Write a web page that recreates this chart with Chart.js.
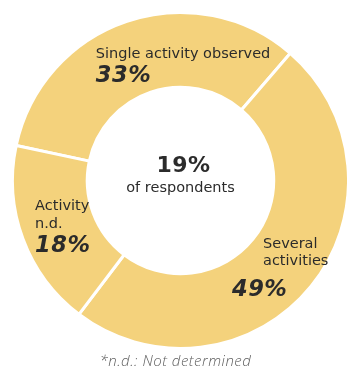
<!DOCTYPE html>
<html>
<head>
<meta charset="utf-8">
<script src="https://cdn.jsdelivr.net/npm/chart.js@4"></script>
<style>
  body { margin: 0; background: #ffffff; }
</style>
</head>
<body>
<canvas id="myChart" width="347" height="372"></canvas>
<script>
var categories = ["Single activity observed", "Several activities", "Activity n.d."];
var labelLines = [["Single activity observed"], ["Several", "activities"], ["Activity", "n.d."]];
var shares = [33, 49, 18];
var centerValue = "19%";
var centerText = "of respondents";
var footnote = "*n.d.: Not determined";

// where each label block sits, relative to the middle of its slice
// [text dx, text dy of first line, line step, percent dx, percent dy]
var labelOffsets = [
    [-43, 1, 18, -43, 25],
    [-19, -15, 17, -50, 33],
    [-23, -16, 18, -23, 26]
];

var textColor = '#2b2b2b';
var family = '"DejaVu Sans", Verdana, sans-serif';

var ringLabels = {
    id: 'ringLabels',
    afterDraw: function(chart) {
        var ctx = chart.ctx;
        var meta = chart.getDatasetMeta(0);
        ctx.save();
        ctx.fillStyle = textColor;
        ctx.textBaseline = 'alphabetic';

        for (var i = 0; i < meta.data.length; i++) {
            var p = meta.data[i].tooltipPosition();
            var o = labelOffsets[i];
            ctx.textAlign = 'left';
            ctx.letterSpacing = '0px';
            ctx.font = '14.5px ' + family;
            for (var j = 0; j < labelLines[i].length; j++) {
                ctx.fillText(labelLines[i][j], p.x + o[0], p.y + o[1] + j * o[2]);
            }
            ctx.letterSpacing = '0.5px';
            ctx.font = 'italic bold 22.5px ' + family;
            ctx.fillText(shares[i] + '%', p.x + o[3], p.y + o[4]);
        }

        // middle of the ring
        var cx = meta.data[0].x;
        var cy = meta.data[0].y;
        ctx.textAlign = 'center';
        ctx.letterSpacing = '0.5px';
        ctx.font = 'bold 22px ' + family;
        ctx.fillText(centerValue, cx + 3, cy - 9);
        ctx.letterSpacing = '0px';
        ctx.font = '14.5px ' + family;
        ctx.fillText(centerText, cx, cy + 11);

        // footnote under the chart
        ctx.fillStyle = '#5e5e5e';
        ctx.letterSpacing = '0.5px';
        ctx.font = 'italic 300 15px "Open Sans", sans-serif';
        ctx.fillText(footnote, cx - 5, 366);
        ctx.restore();
    }
};

var ctx = document.getElementById('myChart').getContext('2d');
var chart = new Chart(ctx, {
    type: 'doughnut',
    data: {
        labels: categories,
        datasets: [{
            data: shares,
            backgroundColor: '#f4d27c',
            borderColor: '#ffffff',
            borderWidth: 3,
            hoverOffset: 0
        }]
    },
    options: {
        responsive: false,
        animation: false,
        rotation: 282,
        radius: 168,
        cutout: '55.5%',
        layout: {
            padding: { left: 14, right: 0, top: 0, bottom: 11 }
        },
        plugins: {
            legend: { display: false },
            tooltip: { enabled: false }
        }
    },
    plugins: [ringLabels]
});
</script>
</body>
</html>
